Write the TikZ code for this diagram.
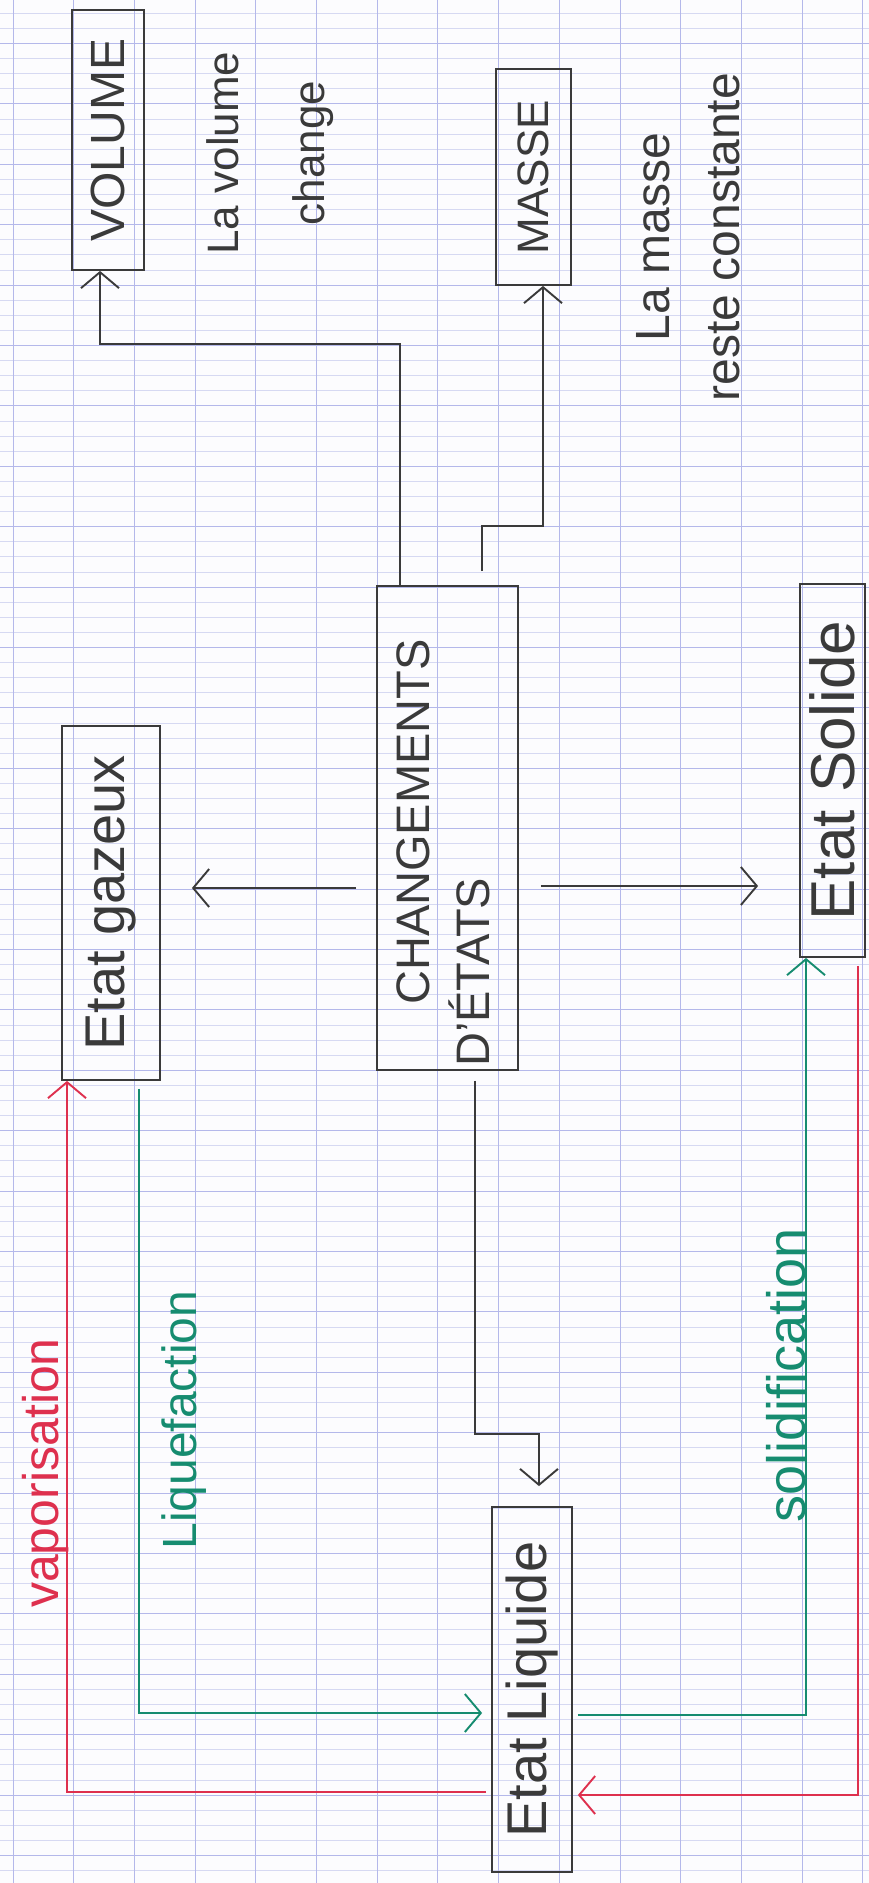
\documentclass[tikz,border=0pt]{standalone}
\usepackage{fontspec}
\setmainfont{Liberation Sans}
\usepackage{tikz}
\usetikzlibrary{arrows.meta}
\definecolor{encre}{RGB}{58,58,58}
\definecolor{rouge}{RGB}{222,48,78}
\definecolor{vert}{RGB}{22,140,112}
\definecolor{grille}{RGB}{214,217,242}
\definecolor{grillefonce}{RGB}{180,184,234}
\definecolor{papier}{RGB}{252,252,254}

\begin{document}
\begin{tikzpicture}[x=1pt, y=-1pt, >={Straight Barb[length=16pt,width=38pt]},
  statebox/.style={draw=encre, line width=1.8pt, text=encre, inner sep=0pt},
  note/.style={rotate=90, align=center, text=encre, inner sep=0pt},
  arr/.style={->, line width=1.9pt, draw=encre},
  redarr/.style={->, line width=1.9pt, draw=rouge},
  greenarr/.style={->, line width=1.9pt, draw=vert}]
  \useasboundingbox (0,0) rectangle (869,1883);
  \fill[papier] (0,0) rectangle (869,1883);
  % papier a grands carreaux
  \foreach \k in {0,...,123} \draw[grille, line width=0.8pt] (0,{13.2+15.1*\k}) -- (869,{13.2+15.1*\k});
  \foreach \k in {0,...,30} \draw[grillefonce, line width=0.9pt] (0,{43.4+60.4*\k}) -- (869,{43.4+60.4*\k});
  \foreach \k in {0,...,14} \draw[grillefonce, line width=1pt] ({13+60.7*\k},0) -- ({13+60.7*\k},1883);

  \node[statebox, minimum width=72pt, minimum height=260pt, font=\fontsize{48}{48}\selectfont] (volume) at (108,140) {\rotatebox{90}{VOLUME}};
  \node[statebox, minimum width=75pt, minimum height=216pt, font=\fontsize{44}{44}\selectfont] (masse) at (533.5,177) {\rotatebox{90}{MASSE}};
  \node[statebox, minimum width=141pt, minimum height=484pt, font=\fontsize{47}{60}\selectfont] (chg) at (447.5,828) {\rotatebox{90}{\begin{tabular}{@{}l@{}}\hspace*{62pt}CHANGEMENTS\hspace*{50pt}\\D'ÉTATS\end{tabular}}};
  \node[statebox, minimum width=98pt, minimum height=354pt, font=\fontsize{56}{56}\selectfont] (gazeux) at (111,903) {\rotatebox{90}{Etat gazeux}};
  \node[statebox, minimum width=65pt, minimum height=373pt, font=\fontsize{62}{62}\selectfont] (solide) at (832.5,770.5) {\rotatebox{90}{Etat Solide}};
  \node[statebox, minimum width=80pt, minimum height=365pt, font=\fontsize{56}{56}\selectfont] (liquide) at (532,1689.5) {\rotatebox{90}{Etat Liquide}};

  \node[note, font=\fontsize{44}{86}\selectfont] (lavolume) at (270,153) {La volume\\change};
  \node[note, font=\fontsize{48}{70}\selectfont] (lamasse) at (688,237) {La masse\\reste constante};
  \node[note, text=vert, font=\fontsize{48}{48}\selectfont] (liquefaction) at (184,1420) {Liquefaction};
  \node[note, text=rouge, font=\fontsize{50}{50}\selectfont] (vaporisation) at (46,1473) {vaporisation};
  \node[note, text=vert, font=\fontsize{54}{54}\selectfont] (solidification) at (786,1375) {solidification};

  \draw[arr] ([xshift=-47.5pt]chg.north) -- ++(0,-241) -| ([xshift=-8pt]volume.south);
  \draw[arr, shorten <=14pt] ([xshift=34.5pt]chg.north) -- ++(0,-59) -| ([xshift=9.5pt]masse.south);
  \draw[arr, shorten <=20pt, shorten >=31pt] ([yshift=-60pt]chg.west) -- ([yshift=-60pt]chg.west -| gazeux.east);
  \draw[arr, shorten <=22pt, shorten >=41pt] ([yshift=-58pt]chg.east) -- ([yshift=-58pt]chg.east -| solide.west);
  \draw[arr, shorten <=10pt, shorten >=20pt] ([xshift=27.5pt]chg.south) -- ++(0,363) -| ([xshift=7pt]liquide.north);
  \draw[greenarr, shorten <=8pt, shorten >=9pt] ([xshift=28pt]gazeux.south) |- ([yshift=-23.5pt]liquide.west);
  \draw[redarr, shorten <=5pt] ([yshift=-102.5pt]liquide.west) -| ([xshift=-44pt]gazeux.south);
  \draw[greenarr, shorten <=5pt] ([yshift=-25.5pt]liquide.east) -| ([xshift=-26.5pt]solide.south);
  \draw[redarr, shorten <=8pt, shorten >=5pt] ([xshift=25.5pt]solide.south) |- ([yshift=-105.5pt]liquide.east);
\end{tikzpicture}
\end{document}
